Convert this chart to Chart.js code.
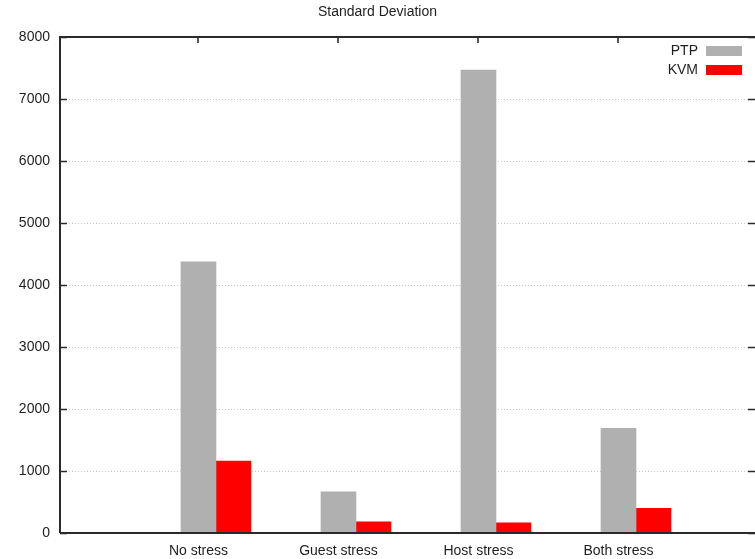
<!DOCTYPE html>
<html>
<head>
<meta charset="utf-8">
<script src="https://cdn.jsdelivr.net/npm/chart.js@4/dist/chart.umd.min.js"></script>
<style>
html,body{margin:0;padding:0;background:#fff;overflow:hidden;}
canvas{display:block;}
</style>
</head>
<body>
<canvas id="c" width="755" height="559"></canvas>
<script>
const categories = ['No stress', 'Guest stress', 'Host stress', 'Both stress'];
const ptpValues = [4375, 666, 7465, 1689];
const kvmValues = [1160, 182, 166, 398];
const yTicks = [0, 1000, 2000, 3000, 4000, 5000, 6000, 7000, 8000];
const seriesNames = ['PTP', 'KVM'];
const seriesColors = ['#b0b0b0', '#ff0000'];

const FONT = '"Liberation Sans", Arial, sans-serif';
const TEXT = '#1e1e1e';
const BAR_W = 35;

const framePlugin = {
  id: 'frame',
  afterDatasetsDraw(chart) {
    const {ctx, chartArea: a, scales} = chart;
    const x = scales.x, y = scales.y;
    ctx.save();
    ctx.strokeStyle = '#2a2a2a';
    ctx.lineWidth = 1.6;
    ctx.beginPath();
    // inward ticks left/right
    yTicks.forEach(v => {
      const py = Math.round(y.getPixelForValue(v)) + 0.5;
      ctx.moveTo(a.left, py); ctx.lineTo(a.left + 7, py);
      ctx.moveTo(a.right, py); ctx.lineTo(a.right - 7, py);
    });
    // mirrored x ticks at top
    categories.forEach((c, i) => {
      const px = Math.round(x.getPixelForValue(i) - BAR_W / 2);
      ctx.moveTo(px, a.top); ctx.lineTo(px, a.top + 6);
    });
    ctx.stroke();
    ctx.lineWidth = 2;
    ctx.beginPath();
    ctx.moveTo(a.left, a.bottom); ctx.lineTo(a.right + 2, a.bottom);
    ctx.moveTo(a.left, a.bottom); ctx.lineTo(a.left, a.top);
    ctx.lineTo(a.right + 2, a.top);
    ctx.stroke();
    // legend inside plot, top right
    ctx.font = '14px ' + FONT;
    ctx.textAlign = 'right';
    ctx.textBaseline = 'middle';
    seriesNames.forEach((n, i) => {
      const cy = a.top + 14 + i * 19;
      ctx.fillStyle = TEXT;
      ctx.fillText(n, a.left + 638, cy);
      ctx.fillStyle = seriesColors[i];
      ctx.fillRect(a.left + 646, cy - 5, 36, 10);
    });
    ctx.restore();
  }
};

const chart = new Chart(document.getElementById('c'), {
  type: 'bar',
  data: {
    datasets: seriesNames.map((n, s) => ({
      label: n,
      data: (s === 0 ? ptpValues : kvmValues).map((v, i) => ({x: i, y: v})),
      backgroundColor: seriesColors[s],
      borderWidth: 0,
      barThickness: BAR_W
    }))
  },
  options: {
    responsive: false,
    animation: false,
    devicePixelRatio: 1,
    layout: {padding: {left: 0, right: 0, top: 0, bottom: 0}},
    plugins: {
      legend: {display: false},
      tooltip: {enabled: false},
      title: {
        display: true,
        text: 'Standard Deviation',
        color: TEXT,
        font: {family: FONT, size: 14, weight: 'normal'},
        padding: {top: 4.2, bottom: 16}
      }
    },
    scales: {
      x: {
        type: 'linear',
        offset: false,
        min: -1.114,
        max: 3.85,
        afterBuildTicks(scale) { scale.ticks = categories.map((c, i) => ({value: i})); },
        afterFit(scale) { scale.height = 26; },
        grid: {display: false, drawTicks: false, offset: false},
        border: {display: false},
        ticks: {
          color: TEXT,
          font: {family: FONT, size: 14},
          padding: 10,
          labelOffset: -BAR_W / 2,
          maxRotation: 0,
          autoSkip: false,
          callback: (v) => categories[v] !== undefined ? categories[v] : ''
        }
      },
      y: {
        type: 'linear',
        min: 0,
        max: 8000,
        afterBuildTicks(scale) { scale.ticks = yTicks.map(v => ({value: v})); },
        afterFit(scale) { scale.width = 60; },
        grid: {color: '#c8c8c8', lineWidth: 1, drawTicks: false},
        border: {display: false, dash: [1, 2]},
        ticks: {
          color: TEXT,
          font: {family: FONT, size: 14},
          padding: 10,
          callback: (v) => String(v)
        }
      }
    }
  },
  plugins: [framePlugin]
});
</script>
</body>
</html>
